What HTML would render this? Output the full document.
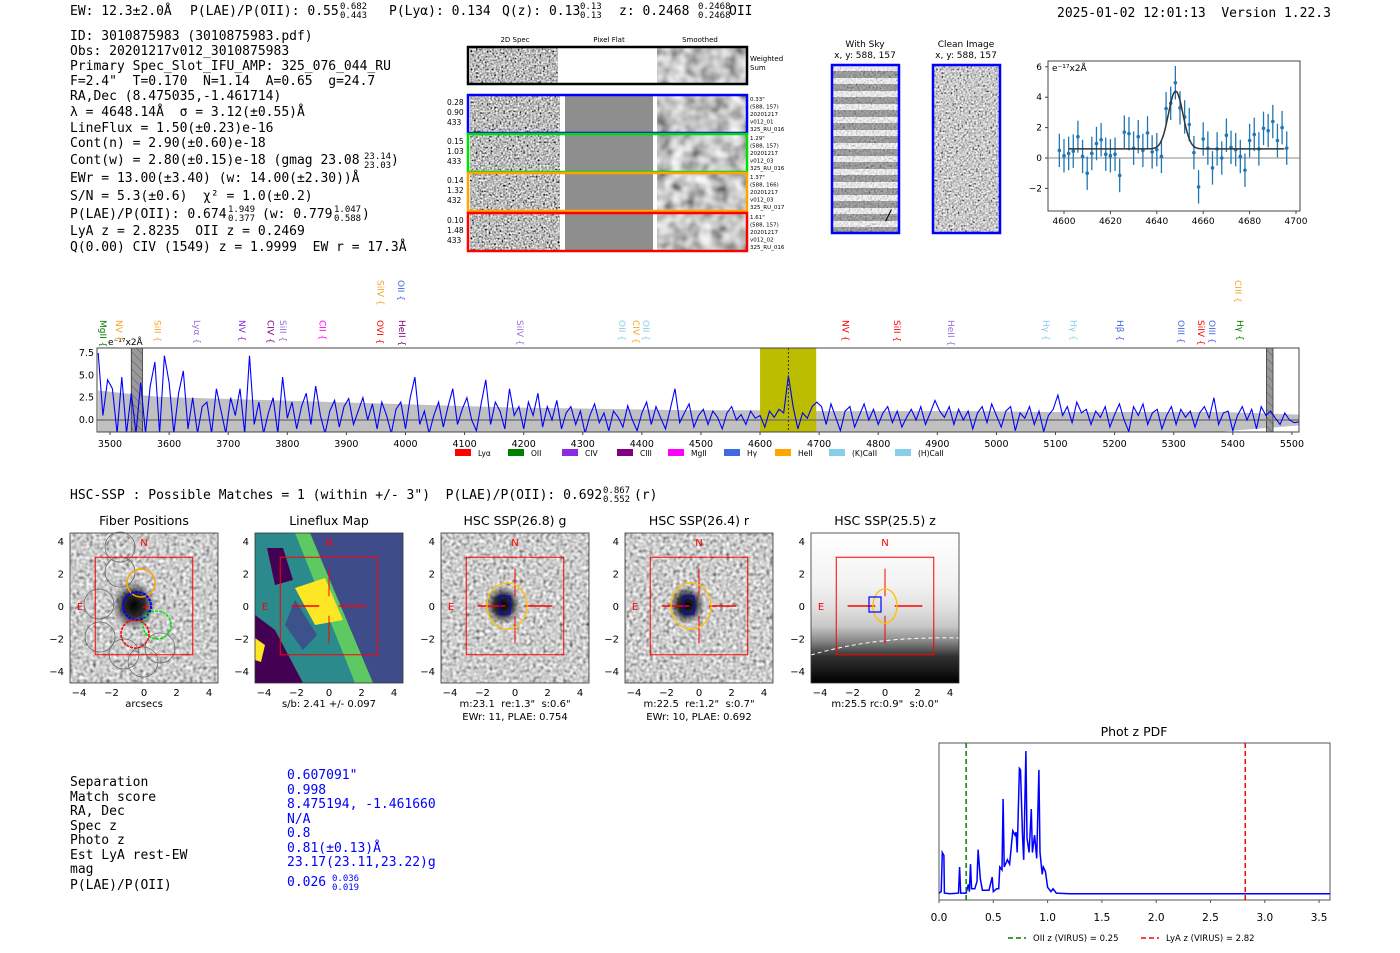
<!DOCTYPE html>
<html><head><meta charset="utf-8">
<style>
html,body{margin:0;padding:0;background:#fff;}
svg{display:block;}
.m{font-family:"DejaVu Sans Mono","Liberation Mono",monospace;font-size:13px;fill:#000;white-space:pre;}
.sm{font-size:9px;}
.s{font-family:"DejaVu Sans","Liberation Sans",sans-serif;}
</style></head><body>
<svg id="root" width="1400" height="953" viewBox="0 0 1400 953" xmlns="http://www.w3.org/2000/svg">
<defs>
<filter id="nz" x="0" y="0" width="100%" height="100%"><feTurbulence type="fractalNoise" baseFrequency="0.55" numOctaves="1" seed="2"/><feColorMatrix type="matrix" values="1.3 1.3 0 0 -0.8  1.3 1.3 0 0 -0.8  1.3 1.3 0 0 -0.8  0 0 0 0 1"/></filter>
<filter id="nz2" x="0" y="0" width="100%" height="100%"><feTurbulence type="fractalNoise" baseFrequency="0.55" numOctaves="1" seed="9"/><feColorMatrix type="matrix" values="1.3 1.3 0 0 -0.8  1.3 1.3 0 0 -0.8  1.3 1.3 0 0 -0.8  0 0 0 0 1"/></filter>
<filter id="sm" x="0" y="0" width="100%" height="100%"><feTurbulence type="fractalNoise" baseFrequency="0.07" numOctaves="2" seed="4"/><feColorMatrix type="matrix" values="0.9 0.9 0 0 -0.35  0.9 0.9 0 0 -0.35  0.9 0.9 0 0 -0.35  0 0 0 0 1"/></filter>
<filter id="ct" x="0" y="0" width="100%" height="100%"><feTurbulence type="fractalNoise" baseFrequency="0.3" numOctaves="1" seed="5"/><feColorMatrix type="matrix" values="0.9 0.9 0 0 -0.3  0.9 0.9 0 0 -0.3  0.9 0.9 0 0 -0.3  0 0 0 0 1"/></filter>
<radialGradient id="blob"><stop offset="0" stop-color="#000" stop-opacity="1"/><stop offset="0.5" stop-color="#111" stop-opacity="0.85"/><stop offset="1" stop-color="#333" stop-opacity="0"/></radialGradient>
<linearGradient id="zg" x1="0" y1="0" x2="0" y2="1"><stop offset="0" stop-color="#fff"/><stop offset="0.35" stop-color="#f2f2f2"/><stop offset="0.5" stop-color="#e0e0e0"/><stop offset="0.62" stop-color="#c8c8c8"/><stop offset="0.72" stop-color="#888"/><stop offset="0.82" stop-color="#333"/><stop offset="1" stop-color="#000"/></linearGradient>
<pattern id="stripe" width="10" height="13" patternUnits="userSpaceOnUse"><rect width="10" height="13" fill="#fff"/><rect y="6" width="10" height="7" fill="#888"/></pattern>
<pattern id="hatch" width="6" height="6" patternUnits="userSpaceOnUse" patternTransform="rotate(-45)"><rect width="6" height="6" fill="#999"/><line x1="0" y1="0" x2="0" y2="6" stroke="#555" stroke-width="1"/></pattern>
</defs>

<g>
<text class="m" x="70" y="15">EW: 12.3±2.0Å</text>
<text class="m" x="190" y="15">P(LAE)/P(OII): 0.55</text>
<text class="m sm" x="340" y="9">0.682</text><text class="m sm" x="340" y="18">0.443</text>
<text class="m" x="389" y="15">P(Lyα): 0.134</text>
<text class="m" x="502" y="15">Q(z): 0.13</text>
<text class="m sm" x="580" y="9">0.13</text><text class="m sm" x="580" y="18">0.13</text>
<text class="m" x="619" y="15">z: 0.2468</text>
<text class="m sm" x="698" y="9">0.2468</text><text class="m sm" x="698" y="18">0.2468</text>
<text class="m" x="729" y="15">OII</text>
</g>
<text class="m" x="1057" y="17">2025-01-02 12:01:13  Version 1.22.3</text>

<g>
<text class="m" x="70" y="40">ID: 3010875983 (3010875983.pdf)</text>
<text class="m" x="70" y="55">Obs: 20201217v012_3010875983</text>
<text class="m" x="70" y="70">Primary Spec_Slot_IFU_AMP: 325_076_044_RU</text>
<text class="m" x="70" y="85">F=2.4"  T=0.170  N=1.14  A=0.65  g=24.7</text>
<text class="m" x="70" y="100">RA,Dec (8.475035,-1.461714)</text>
<text class="m" x="70" y="116">λ = 4648.14Å  σ = 3.12(±0.55)Å</text>
<text class="m" x="70" y="132">LineFlux = 1.50(±0.23)e-16</text>
<text class="m" x="70" y="147">Cont(n) = 2.90(±0.60)e-18</text>
<text class="m" x="70" y="164">Cont(w) = 2.80(±0.15)e-18 (gmag 23.08</text>
<text class="m sm" x="364" y="159">23.14</text><text class="m sm" x="364" y="168">23.03</text><text class="m" x="391" y="164">)</text>
<text class="m" x="70" y="182">EWr = 13.00(±3.40) (w: 14.00(±2.30))Å</text>
<text class="m" x="70" y="200">S/N = 5.3(±0.6)  χ² = 1.0(±0.2)</text>
<text class="m" x="70" y="218">P(LAE)/P(OII): 0.674</text>
<text class="m sm" x="228" y="212">1.949</text><text class="m sm" x="228" y="221">0.377</text>
<text class="m" x="262" y="218">(w: 0.779</text>
<text class="m sm" x="334" y="212">1.047</text><text class="m sm" x="334" y="221">0.588</text><text class="m" x="362" y="218">)</text>
<text class="m" x="70" y="235">LyA z = 2.8235  OII z = 0.2469</text>
<text class="m" x="70" y="251">Q(0.00) CIV (1549) z = 1.9999  EW r = 17.3Å</text>
</g>

<g class="s">
<text x="515" y="42" font-size="7" text-anchor="middle">2D Spec</text>
<text x="609" y="42" font-size="7" text-anchor="middle">Pixel Flat</text>
<text x="700" y="42" font-size="7" text-anchor="middle">Smoothed</text>
<rect x="470" y="48" width="88" height="35" filter="url(#nz)"/>
<rect x="657" y="48" width="89" height="35" filter="url(#sm)"/>
<rect x="468" y="47" width="279" height="37" fill="none" stroke="#000" stroke-width="2.5"/>
<text x="750" y="61" font-size="7">Weighted</text><text x="750" y="70" font-size="7">Sum</text>
<g id="rows"></g>
</g>

<g class="s">
<text x="865" y="47" font-size="9" text-anchor="middle">With Sky</text>
<text x="865" y="58" font-size="9" text-anchor="middle">x, y: 588, 157</text>
<rect x="832" y="65" width="67" height="168" fill="url(#stripe)"/>
<rect x="832" y="65" width="67" height="168" filter="url(#nz2)" opacity="0.35"/>
<text x="886" y="220" font-size="14" font-style="italic">/</text>
<rect x="832" y="65" width="67" height="168" fill="none" stroke="#0000ff" stroke-width="2.5"/>
</g>
<g class="s">
<text x="966" y="47" font-size="9" text-anchor="middle">Clean Image</text>
<text x="966" y="58" font-size="9" text-anchor="middle">x, y: 588, 157</text>
<rect x="933" y="65" width="67" height="168" filter="url(#nz)" opacity="0.8"/>
<rect x="933" y="65" width="67" height="168" fill="none" stroke="#0000ff" stroke-width="2.5"/>
</g>

<g id="fit" class="s"></g>
<g id="spec" class="s"></g>

<text class="m" x="70" y="499">HSC-SSP : Possible Matches = 1 (within +/- 3")  P(LAE)/P(OII): 0.692</text>
<text class="m sm" x="603" y="493">0.867</text><text class="m sm" x="603" y="502">0.552</text><text class="m" x="634" y="499">(r)</text>

<g id="cut" class="s"></g>

<g>
<text class="m" x="70" y="786">Separation</text>
<text class="m" x="70" y="801">Match score</text>
<text class="m" x="70" y="815">RA, Dec</text>
<text class="m" x="70" y="830">Spec z</text>
<text class="m" x="70" y="844">Photo z</text>
<text class="m" x="70" y="859">Est LyA rest-EW</text>
<text class="m" x="70" y="873">mag</text>
<text class="m" x="70" y="889">P(LAE)/P(OII)</text>
<text class="m" x="287" y="779" style="fill:#0000ff">0.607091"</text>
<text class="m" x="287" y="794" style="fill:#0000ff">0.998</text>
<text class="m" x="287" y="808" style="fill:#0000ff">8.475194, -1.461660</text>
<text class="m" x="287" y="823" style="fill:#0000ff">N/A</text>
<text class="m" x="287" y="837" style="fill:#0000ff">0.8</text>
<text class="m" x="287" y="852" style="fill:#0000ff">0.81(±0.13)Å</text>
<text class="m" x="287" y="866" style="fill:#0000ff">23.17(23.11,23.22)g</text>
<text class="m" x="287" y="886" style="fill:#0000ff">0.026</text>
<text class="m sm" x="332" y="881" style="fill:#0000ff">0.036</text>
<text class="m sm" x="332" y="890" style="fill:#0000ff">0.019</text>
</g>

<g id="pdf" class="s"></g>
</svg>
<script>
var NS="http://www.w3.org/2000/svg";
function el(tag,parent,attrs,txt){var e=document.createElementNS(NS,tag);for(var k in attrs)e.setAttribute(k,attrs[k]);if(txt!==undefined)e.textContent=txt;parent.appendChild(e);return e;}

// ---------- data ----------
var specStart=3480, specStep=8;
var specFlux=[7.5,0.5,4.5,3.5,-1.5,4.8,-1.5,3.0,-1.5,4.2,-1.5,3.8,6.5,-1.5,7.2,
4.2,-1.5,3.0,5.5,-1.0,2.5,-1.5,1.5,2.0,-1.5,3.5,1.0,-1.5,2.5,0.5,3.5,-1.5,7.2,-0.5,2.0,-1.5,0.8,2.5,-1.5,4.8,
0.2,2.0,-1.0,1.5,3.0,-0.5,3.8,0.5,-1.5,1.0,2.2,-0.8,1.5,2.4,-0.5,1.0,2.5,0.0,1.8,-1.0,2.0,0.5,-1.5,1.2,2.0,
-1.0,2.5,4.8,-0.5,1.0,-1.5,0.5,2.0,-0.8,1.5,3.5,-0.5,1.2,2.5,0.0,-1.2,1.8,4.5,-0.5,2.0,1.0,-1.0,3.5,0.5,1.5,
-1.0,2.0,0.5,3.0,-0.8,1.5,0.0,2.2,-1.0,0.8,1.5,-0.5,1.0,-1.5,0.5,1.8,-0.3,0.8,-1.2,1.0,0.3,-0.8,1.6,0.0,-1.2,
0.8,2.0,-0.5,1.5,0.2,-1.0,1.2,3.5,-0.3,0.8,1.8,-0.8,0.5,1.2,-0.5,1.0,0.3,-1.0,0.8,1.5,0.0,0.6,-0.5,1.0,0.2,
0.5,-0.8,1.0,0.3,1.2,0.8,5.0,1.5,-1.0,0.8,0.2,1.5,2.0,
1.5,-0.5,1.8,0.3,-1.2,1.0,1.5,-0.8,0.5,1.8,0.0,1.2,-0.5,0.8,1.5,-0.3,1.0,-0.8,0.3,1.2,0.0,1.5,-0.5,0.8,2.2,
1.0,0.3,1.5,-0.5,1.2,0.0,1.0,-1.0,0.8,1.5,-0.3,1.8,0.5,-0.8,1.0,1.5,-1.2,0.8,0.2,1.5,-0.5,1.0,-1.3,0.5,1.2,
2.8,0.5,1.5,-0.3,2.0,0.8,1.2,-0.5,1.0,0.3,1.5,-0.8,0.6,1.8,0.0,-1.3,1.5,0.5,1.8,-0.5,0.8,1.2,-1.0,0.5,1.5,
-0.5,1.2,0.3,1.0,-0.8,0.8,1.5,0.2,2.5,-0.5,0.8,1.0,-1.2,0.5,1.5,0.0,1.2,-1.0,1.5,0.5,1.0,0.2,-0.5,0.8,0.0,-0.3,-0.2];
var errWave=[3480,3580,3680,3780,3880,3980,4080,4180,4280,4380,4480,4580,4680,4780,4880,4980,5080,5180,5280,5380,5512];
var errUpper=[3.3,2.6,2.4,2.2,2.0,1.8,1.6,1.4,1.3,1.2,1.1,1.1,1.0,1.0,1.0,1.0,0.9,0.9,0.9,0.9,0.6];
var errLower=[-1.3,-1.3,-1.3,-1.3,-1.3,-1.3,-1.3,-1.3,-1.3,-1.3,-1.3,-1.3,-1.3,-1.3,-1.3,-1.3,-1.3,-1.3,-1.3,-1.3,-0.6];
var specXTicks=[3500,3600,3700,3800,3900,4000,4100,4200,4300,4400,4500,4600,4700,4800,4900,5000,5100,5200,5300,5400,5500];
var specYTicks=[0.0,2.5,5.0,7.5];
var lineNames=["MgII","NV","SiII","Lyα","NV","CIV","SiII","CII","OVI","HeII","SiIV","OII","SiIV","OII","CIV","OII","NV","SiII","HeII","Hγ","Hγ","Hβ","OIII","SiIV","OIII","Hγ","CIII"];
var lineWaves=[3488,3515,3580,3647,3723,3772,3793,3860,3957,3994,3958,3992,4194,4366,4390,4407,4745,4832,4923,5084,5130,5209,5312,5346,5365,5412,5409];
var lineTier=[0,0,0,0,0,0,0,0,0,0,1,1,0,0,0,0,0,0,0,0,0,0,0,0,0,0,1];
var lineColors=["#008000","#f5a623","#f5a623","#9370db","#8a2be2","#800080","#9370db","#ff00ff","#ff0000","#800080","#f5a623","#4169e1","#9370db","#87ceeb","#f5a623","#87ceeb","#ff0000","#ff0000","#9370db","#87ceeb","#87ceeb","#4169e1","#4169e1","#ff0000","#4169e1","#008000","#f5a623"];
var legendNames=["Lyα","OII","CIV","CIII","MgII","Hγ","HeII","(K)CaII","(H)CaII"];
var legendColors=["#ff0000","#008000","#8a2be2","#800080","#ff00ff","#4169e1","#ffa500","#87ceeb","#87ceeb"];

var fitWave=[4598,4600,4602,4604,4606,4608,4610,4612,4614,4616,4618,4620,4622,4624,4626,4628,4630,4632,4634,4636,4638,4640,4642,4644,4646,4648,4650,4652,4654,4656,4658,4660,4662,4664,4666,4668,4670,4672,4674,4676,4678,4680,4682,4684,4686,4688,4690,4692,4694,4696];
var fitFlux=[0.5,0.15,0.3,0.45,1.4,0.1,-1.0,0.3,0.95,1.2,0.25,0.15,0.25,-1.15,1.7,1.6,0.65,1.4,0.5,1.65,0.4,0.55,0.1,3.25,3.6,4.95,3.3,2.7,2.2,0.35,-1.9,1.25,0.65,-0.65,0.6,0.0,1.5,0.7,0.55,0.1,-0.8,1.15,1.55,0.6,1.95,1.8,2.4,1.15,2.0,0.65];
var fitErr=[1.1,1.1,1.1,1.1,1.05,1.1,1.1,1.1,1.1,1.1,1.1,1.1,1.1,1.1,1.1,1.1,1.1,1.1,1.1,1.1,1.1,1.1,1.1,1.1,1.1,1.1,1.1,1.1,1.1,1.1,1.1,1.1,1.1,1.1,1.1,1.1,1.1,1.1,1.1,1.1,1.1,1.1,1.1,1.1,1.1,1.1,1.1,1.1,1.1,1.1];
var fitParams=[4648.14,3.12,3.8,0.6];
var fitXTicks=[4600,4620,4640,4660,4680,4700];
var fitYTicks=[-2,0,2,4,6];

var pdfZ=[0,0.02,0.03,0.045,0.05,0.1,0.18,0.19,0.2,0.25,0.27,0.28,0.29,0.3,0.33,0.35,0.36,0.38,0.4,0.46,0.49,0.5,0.53,0.55,0.56,0.58,0.59,0.6,0.63,0.65,0.68,0.7,0.71,0.72,0.74,0.75,0.77,0.78,0.8,0.81,0.83,0.85,0.86,0.88,0.9,0.92,0.93,0.95,0.96,0.98,1.0,1.03,1.05,1.08,1.2,1.5,3.6];
var pdfP=[2,3,30,28,2,1.5,2,20,2,2,8,3,22,5,5,10,32,12,4,4,13,3,5,5,20,18,67,20,25,22,45,42,44,30,88,87,40,25,100,40,30,60,30,42,26,87,30,15,20,17,6,3,5,2,1.6,1.5,1.5];
var pdfXTicks=[0.0,0.5,1.0,1.5,2.0,2.5,3.0,3.5];
var oiiZ=0.25, lyaZ=2.82;

// ---------- 2D spectra rows ----------
var rows=document.getElementById('rows');
var rowColors=["#0000ff","#00e000","#ffa500","#ff0000"];
var rowLeft=[["0.28","0.90","433"],["0.15","1.03","433"],["0.14","1.32","432"],["0.10","1.48","433"]];
var rowRight=[["0.33\"","(588, 157)","20201217","v012_01","325_RU_016"],["1.29\"","(588, 157)","20201217","v012_03","325_RU_016"],["1.37\"","(588, 166)","20201217","v012_03","325_RU_017"],["1.61\"","(588, 157)","20201217","v012_02","325_RU_016"]];
var rowTops=[95,134,173,213];
for(var i=0;i<4;i++){
  var g=el('g',rows,{});
  
  
  var t=rowTops[i];
  el('rect',g,{x:470,y:t,width:90,height:38,filter:'url(#nz)'});
  el('rect',g,{x:565,y:t,width:88,height:38,fill:'#8e8e8e'});
  el('rect',g,{x:657,y:t,width:89,height:38,filter:'url(#sm)'});
  el('rect',g,{x:468,y:t,width:279,height:38,fill:'none',stroke:rowColors[i],'stroke-width':2.5});
  for(var j=0;j<3;j++) el('text',g,{x:447,y:t+10+j*10,'font-size':7.5},rowLeft[i][j]);
  for(var j=0;j<5;j++) el('text',g,{x:750,y:t+6+j*7.5,'font-size':5.5},rowRight[i][j]);
}

// ---------- fit plot ----------
var fit=document.getElementById('fit');
function fx(w){return 1064+(w-4600)*2.32;}
function fy(v){return 158-v*15.2;}
el('rect',fit,{x:1048,y:61,width:252,height:150,fill:'#fff',stroke:'#444','stroke-width':1});
el('line',fit,{x1:1048,x2:1300,y1:fy(0),y2:fy(0),stroke:'#888','stroke-width':1});
fitXTicks.forEach(function(v){var tk=el('text',fit,{x:fx(v),y:224,'font-size':9,'text-anchor':'middle'},String(v));


el('line',fit,{x1:fx(v),x2:fx(v),y1:211,y2:214,stroke:'#444'});});
fitYTicks.forEach(function(v){var tk=el('text',fit,{x:1042,y:fy(v)+3,'font-size':9,'text-anchor':'end'},(v<0?'−':'')+Math.abs(v));


el('line',fit,{x1:1045,x2:1048,y1:fy(v),y2:fy(v),stroke:'#444'});});
el('text',fit,{x:1052,y:71,'font-size':9},'e⁻¹⁷x2Å');
for(var i=0;i<fitWave.length;i++){
  var x=fx(fitWave[i]);
  var eb=el('line',fit,{x1:x,x2:x,y1:fy(fitFlux[i]+fitErr[i]),y2:fy(fitFlux[i]-fitErr[i]),stroke:'#1f77b4','stroke-width':1.3});
  
  
  var pt=el('circle',fit,{cx:x,cy:fy(fitFlux[i]),r:1.8,fill:'#1f77b4'});
  
  
}
var fd='';
for(var w=4602;w<=4695;w+=0.5){var v=fitParams[3]+fitParams[2]*Math.exp(-0.5*Math.pow((w-fitParams[0])/fitParams[1],2));fd+=(fd?'L':'M')+fx(w).toFixed(1)+','+fy(v).toFixed(1);}
var fl=el('path',fit,{d:fd,fill:'none',stroke:'#333','stroke-width':1.5});



// ---------- main spectrum ----------
var sp=document.getElementById('spec');
function sx(w){return 97+(w-3478)*(1202/2034);}
function sy(v){return 420-v*8.93;}
var pTop=348,pBot=432;
el('rect',sp,{x:97,y:pTop,width:1202,height:pBot-pTop,fill:'#fff'});
var cp=el('clipPath',sp,{id:'spclip'});el('rect',cp,{x:97,y:pTop,width:1202,height:pBot-pTop});
var gc=el('g',sp,{'clip-path':'url(#spclip)'});
var band='';
for(var i=0;i<errWave.length;i++)band+=(band?'L':'M')+sx(errWave[i]).toFixed(1)+','+sy(errUpper[i]).toFixed(1);
for(var i=errWave.length-1;i>=0;i--)band+='L'+sx(errWave[i]).toFixed(1)+','+sy(errLower[i]).toFixed(1);
var be=el('path',gc,{d:band+'Z',fill:'#c0c0c0'});


var yb=el('rect',gc,{x:sx(4600),y:pTop,width:sx(4695)-sx(4600),height:pBot-pTop,fill:'#bcbc00'});


el('rect',gc,{x:sx(3536),y:pTop,width:sx(3555)-sx(3536),height:pBot-pTop,fill:'url(#hatch)',stroke:'#333','stroke-width':0.8});
el('rect',gc,{x:sx(5457),y:pTop,width:sx(5468)-sx(5457),height:pBot-pTop,fill:'url(#hatch)',stroke:'#333','stroke-width':0.8});
el('line',gc,{x1:97,x2:1299,y1:sy(0),y2:sy(0),stroke:'#777','stroke-width':1.5});
var sd='';
for(var i=0;i<specFlux.length;i++)sd+=(sd?'L':'M')+sx(specStart+i*specStep).toFixed(1)+','+sy(specFlux[i]).toFixed(1);
var sl=el('path',gc,{d:sd,fill:'none',stroke:'#0000ff','stroke-width':1.1});


el('line',gc,{x1:sx(4648),x2:sx(4648),y1:pTop,y2:pBot,stroke:'#333','stroke-dasharray':'2,2'});
el('rect',sp,{x:97,y:pTop,width:1202,height:pBot-pTop,fill:'none',stroke:'#444','stroke-width':1});
specXTicks.forEach(function(v){var tk=el('text',sp,{x:sx(v),y:447,'font-size':9.5,'text-anchor':'middle'},String(v));


el('line',sp,{x1:sx(v),x2:sx(v),y1:pBot,y2:pBot+3,stroke:'#444'});});
specYTicks.forEach(function(v){var tk=el('text',sp,{x:94,y:sy(v)+3,'font-size':9.5,'text-anchor':'end'},v.toFixed(1));

});
el('text',sp,{x:108,y:345,'font-size':9},'e⁻¹⁷x2Å');
for(var i=0;i<lineNames.length;i++){
  var x=sx(lineWaves[i]), y=lineTier[i]?280:320;
  var lt=el('text',sp,{transform:'translate('+(x-3)+','+y+') rotate(90)','font-size':9,fill:lineColors[i]},lineNames[i]+' {');
  
  
}
var lx=[455,508,562,617,668,724,775,829,895];
for(var i=0;i<legendNames.length;i++){
  var lg=el('g',sp,{});
  
  
  el('rect',lg,{x:lx[i],y:449,width:16,height:7,fill:legendColors[i]});
  el('text',lg,{x:lx[i]+23,y:456,'font-size':7.5},legendNames[i]);
}

// ---------- cutouts ----------
var cut=document.getElementById('cut');
var panels=[{x0:70,t:"Fiber Positions",s:["arcsecs"]},{x0:255,t:"Lineflux Map",s:["s/b: 2.41 +/- 0.097"]},{x0:441,t:"HSC SSP(26.8) g",s:["m:23.1  re:1.3\"  s:0.6\"","EWr: 11, PLAE: 0.754"]},{x0:625,t:"HSC SSP(26.4) r",s:["m:22.5  re:1.2\"  s:0.7\"","EWr: 10, PLAE: 0.692"]},{x0:811,t:"HSC SSP(25.5) z",s:["m:25.5 rc:0.9\"  s:0.0\""]}];
var cutTicks=[-4,-2,0,2,4];
panels.forEach(function(p,k){
  var g=el('g',cut,{});
  
  
  var cx=p.x0+74, cy=606, u=16.25;
  el('text',g,{x:cx,y:525,'font-size':12.5,'text-anchor':'middle'},p.t);
  if(k==1){
    el('rect',g,{x:p.x0,y:533,width:148,height:150,fill:'#3e4c8a'});
    el('polygon',g,{points:(p.x0)+',533 '+(p.x0+55)+',533 '+(p.x0+118)+',683 '+(p.x0)+',683',fill:'#2a8a8c'});
    el('polygon',g,{points:(p.x0+40)+',533 '+(p.x0+55)+',533 '+(p.x0+118)+',683 '+(p.x0+100)+',683',fill:'#5ec962'});
    el('polygon',g,{points:(p.x0+12)+',548 '+(p.x0+28)+',548 '+(p.x0+38)+',580 '+(p.x0+20)+',585',fill:'#440154'});
    el('polygon',g,{points:(p.x0)+',615 '+(p.x0+20)+',630 '+(p.x0+48)+',683 '+(p.x0)+',683',fill:'#440154'});
    el('polygon',g,{points:(p.x0+40)+',600 '+(p.x0+62)+',635 '+(p.x0+48)+',650 '+(p.x0+30)+',625',fill:'#3b528b'});
    el('polygon',g,{points:(p.x0+40)+',588 '+(p.x0+70)+',578 '+(p.x0+88)+',620 '+(p.x0+60)+',625',fill:'#fde725'});
    el('polygon',g,{points:(p.x0)+',638 '+(p.x0+10)+',645 '+(p.x0+6)+',662 '+(p.x0)+',660',fill:'#fde725'});
  } else if(k==4){
    el('rect',g,{x:p.x0,y:533,width:148,height:150,fill:'url(#zg)'});
    el('path',g,{d:'M'+p.x0+',655 Q'+(cx-10)+',636 '+(p.x0+148)+',638',fill:'none',stroke:'#fff','stroke-dasharray':'4,3','stroke-width':1});
  } else {
    el('rect',g,{x:p.x0,y:533,width:148,height:150,filter:'url(#ct)'});
    var bx=(k==0)?cx-10:cx-12, br=(k==0)?22:18;
    el('ellipse',g,{cx:bx,cy:cy-1,rx:br,ry:br*1.1,fill:'url(#blob)'});
  }
  el('rect',g,{x:p.x0,y:533,width:148,height:150,fill:'none',stroke:'#333','stroke-width':0.8});
  cutTicks.forEach(function(v){
    el('text',g,{x:cx+v*u,y:696,'font-size':10,'text-anchor':'middle'},(v<0?'−':'')+Math.abs(v));
    el('text',g,{x:p.x0-6,y:cy-v*u+4,'font-size':10,'text-anchor':'end'},(v<0?'−':'')+Math.abs(v));
  });
  p.s.forEach(function(s,j){el('text',g,{x:cx,y:707+j*13,'font-size':10,'text-anchor':'middle','xml:space':'preserve',style:'white-space:pre'},s);});
  if(k==0){
    var gray=[[120,572],[99,604],[100,637],[124,654],[143,662],[120,547],[160,648]];
    gray.forEach(function(c){el('circle',g,{cx:c[0],cy:c[1],r:15,fill:'none',stroke:'#666','stroke-width':0.8});});
    el('circle',g,{cx:141,cy:583,r:14,fill:'none',stroke:'#ffa500','stroke-width':1.5});
    el('circle',g,{cx:137,cy:606,r:14,fill:'none',stroke:'#0000ff','stroke-width':2,'stroke-dasharray':'3,1'});
    el('circle',g,{cx:157,cy:625,r:14,fill:'none',stroke:'#00e000','stroke-width':1.5,'stroke-dasharray':'3,1'});
    el('circle',g,{cx:135,cy:634,r:14,fill:'none',stroke:'#ff0000','stroke-width':1.5,'stroke-dasharray':'3,1'});
  }
  el('rect',g,{x:cx-3*u,y:cy-3*u,width:6*u,height:6*u,fill:'none',stroke:'#ff0000','stroke-width':1});
  if(k>0){
    el('line',g,{x1:cx-2.3*u,x2:cx-0.6*u,y1:cy,y2:cy,stroke:'#ff0000','stroke-width':1.5});
    el('line',g,{x1:cx+0.6*u,x2:cx+2.3*u,y1:cy,y2:cy,stroke:'#ff0000','stroke-width':1.5});
    el('line',g,{x1:cx,x2:cx,y1:cy-2.3*u,y2:cy-0.6*u,stroke:'#ff0000','stroke-width':1});
    el('line',g,{x1:cx,x2:cx,y1:cy+0.6*u,y2:cy+2.3*u,stroke:'#ff0000','stroke-width':1});
  } else {
    el('text',g,{x:cx+2,y:cy+4,'font-size':10,fill:'#ff0000','text-anchor':'middle'},'+');
  }
  if(k>=2){
    var ex=(k==4)?cx:cx-8, rx=(k==4)?12:20, ry=(k==4)?17:23;
    el('ellipse',g,{cx:ex,cy:cy,rx:rx,ry:ry,fill:'none',stroke:'#ffc000','stroke-width':1.3});
    el('rect',g,{x:cx-(k==4?16:15),y:cy-(k==4?9:10),width:(k==4?12:10),height:(k==4?15:18),fill:'none',stroke:'#0000ff','stroke-width':1.2});
  }
  el('text',g,{x:cx,y:546,'font-size':10,fill:'#ff0000','text-anchor':'middle'},'N');
  el('text',g,{x:cx-64,y:610,'font-size':10,fill:'#ff0000','text-anchor':'middle'},'E');
});

// ---------- phot z pdf ----------
var pdf=document.getElementById('pdf');
function px(z){return 939+z*108.6;}
function py(p){return 896-p*1.45;}
el('text',pdf,{x:1134,y:736,'font-size':12.5,'text-anchor':'middle'},'Phot z PDF');
el('rect',pdf,{x:939,y:743,width:391,height:157,fill:'#fff',stroke:'#555','stroke-width':1});
var pd='';
for(var i=0;i<pdfZ.length;i++)pd+=(pd?'L':'M')+px(pdfZ[i]).toFixed(1)+','+py(pdfP[i]).toFixed(1);
var pl=el('path',pdf,{d:pd,fill:'none',stroke:'#0000ff','stroke-width':1.5});


var gl=el('line',pdf,{x1:px(oiiZ),x2:px(oiiZ),y1:743,y2:900,stroke:'#008000','stroke-width':1.5,'stroke-dasharray':'5,3'});


var rl=el('line',pdf,{x1:px(lyaZ),x2:px(lyaZ),y1:743,y2:900,stroke:'#ff0000','stroke-width':1.5,'stroke-dasharray':'5,3'});


pdfXTicks.forEach(function(v){var tk=el('text',pdf,{x:px(v),y:921,'font-size':10.5,'text-anchor':'middle'},v.toFixed(1));


el('line',pdf,{x1:px(v),x2:px(v),y1:900,y2:903,stroke:'#555'});});
var lg1=el('g',pdf,{});


el('line',lg1,{x1:1008,x2:1026,y1:938,y2:938,stroke:'#008000','stroke-width':1.5,'stroke-dasharray':'5,3'});
el('text',lg1,{x:1033,y:941,'font-size':8.5},'OII z (VIRUS) = 0.25');
var lg2=el('g',pdf,{});


el('line',lg2,{x1:1141,x2:1159,y1:938,y2:938,stroke:'#ff0000','stroke-width':1.5,'stroke-dasharray':'5,3'});
el('text',lg2,{x:1166,y:941,'font-size':8.5},'LyA z (VIRUS) = 2.82');
</script>
</body></html>
